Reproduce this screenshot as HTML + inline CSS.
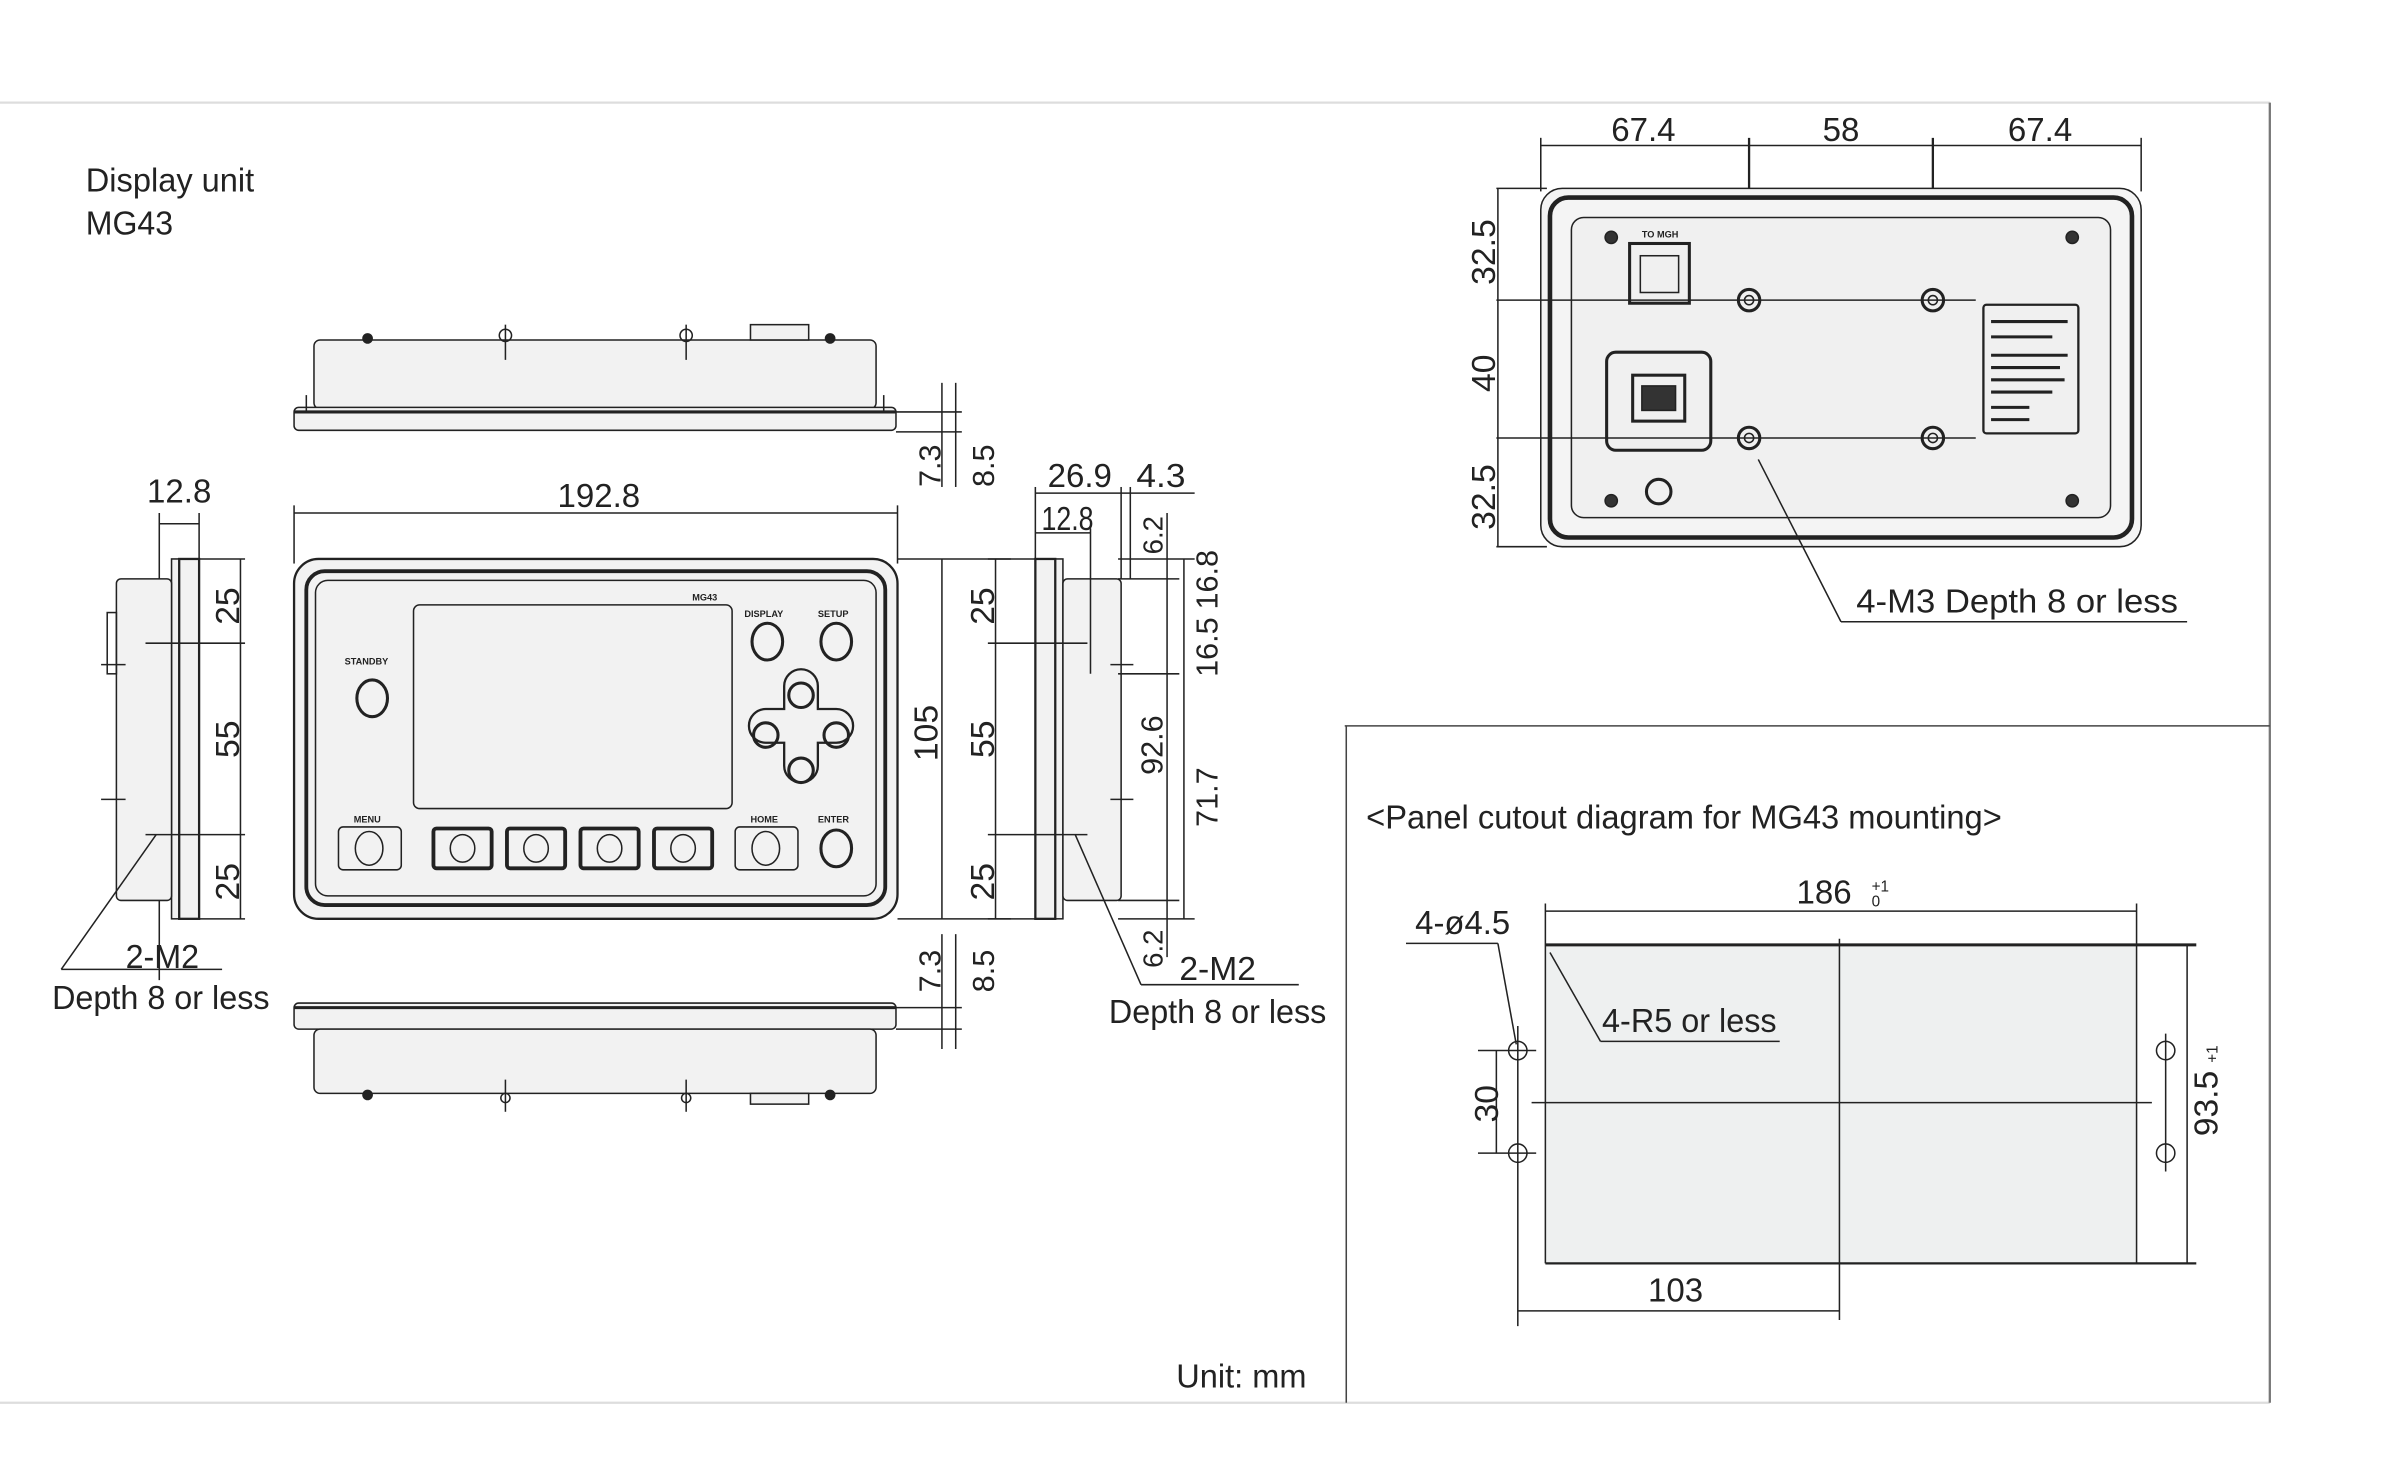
<!DOCTYPE html>
<html><head><meta charset="utf-8"><style>
html,body{margin:0;padding:0;background:#fff;}
svg{display:block;}
text{font-family:"Liberation Sans",sans-serif;fill:#222;}
</style></head><body>
<svg width="2400" height="1464" viewBox="0 0 1567 956" preserveAspectRatio="none" xmlns="http://www.w3.org/2000/svg">
<g fill="none" stroke="#222" stroke-width="1">
<line x1="0" y1="67" x2="1482" y2="67" stroke="#ddd" stroke-width="1.5"/>
<line x1="0" y1="916" x2="1482" y2="916" stroke="#ddd" stroke-width="1.5"/>
<line x1="1482" y1="67" x2="1482" y2="916" stroke="#777" stroke-width="1.5"/>
<line x1="878" y1="474" x2="1482" y2="474" stroke="#444"/>
<line x1="879" y1="474" x2="879" y2="916" stroke="#444"/>

<rect x="205" y="222" width="367" height="45" rx="4" fill="#f2f2f2"/>
<rect x="192" y="266" width="393" height="15" rx="3" fill="#f2f2f2"/>
<line x1="192" y1="269" x2="585" y2="269" stroke-width="2"/>
<rect x="490" y="212" width="38" height="10" fill="#f2f2f2"/>
<line x1="330" y1="212" x2="330" y2="235"/><line x1="448" y1="212" x2="448" y2="235"/>
<circle cx="240" cy="221" r="3" fill="#222"/><circle cx="330" cy="219" r="4"/><circle cx="448" cy="219" r="4"/><circle cx="542" cy="221" r="3" fill="#222"/>
<line x1="200" y1="258" x2="200" y2="270"/><line x1="577" y1="258" x2="577" y2="270"/>
<line x1="585" y1="269" x2="628" y2="269"/><line x1="585" y1="282" x2="628" y2="282"/>
<line x1="615" y1="250" x2="615" y2="318"/><line x1="624" y1="250" x2="624" y2="318"/>
<rect x="192" y="655" width="393" height="17" rx="3" fill="#f2f2f2"/>
<line x1="192" y1="658" x2="585" y2="658" stroke-width="2"/>
<rect x="205" y="672" width="367" height="42" rx="4" fill="#f2f2f2"/>
<rect x="490" y="714" width="38" height="7" fill="#f2f2f2"/>
<line x1="330" y1="705" x2="330" y2="726"/><line x1="448" y1="705" x2="448" y2="726"/>
<circle cx="240" cy="715" r="3" fill="#222"/><circle cx="330" cy="717" r="3"/><circle cx="448" cy="717" r="3"/><circle cx="542" cy="715" r="3" fill="#222"/>
<line x1="585" y1="658" x2="628" y2="658"/><line x1="585" y1="672" x2="628" y2="672"/>
<line x1="615" y1="610" x2="615" y2="685"/><line x1="624" y1="610" x2="624" y2="685"/>

<line x1="192" y1="335" x2="586" y2="335"/>
<line x1="192" y1="330" x2="192" y2="368"/><line x1="586" y1="330" x2="586" y2="368"/>
<rect x="192" y="365" width="394" height="235" rx="16" fill="#f2f2f2" stroke-width="1.5"/>
<rect x="200" y="373" width="378" height="218" rx="12" stroke-width="2.5"/>
<rect x="206" y="379" width="366" height="206" rx="8" fill="#f2f2f2"/>
<rect x="270" y="395" width="208" height="133" rx="4" fill="#f2f2f2"/>
<ellipse cx="501" cy="419" rx="10" ry="12" stroke-width="2"/>
<ellipse cx="546" cy="419" rx="10" ry="12" stroke-width="2"/>
<ellipse cx="243" cy="456" rx="10" ry="12" stroke-width="2"/>
<path d="M512 448 a10 10 0 0 1 22 0 l 0 15 l 12 0 a10 10 0 0 1 0 22 l -12 0 l 0 15 a10 10 0 0 1 -22 0 l 0 -15 l -12 0 a10 10 0 0 1 0 -22 l 12 0 z" stroke-width="1.5"/>
<circle cx="523" cy="454" r="8" stroke-width="2"/><circle cx="500" cy="480" r="8" stroke-width="2"/><circle cx="546" cy="480" r="8" stroke-width="2"/><circle cx="523" cy="503" r="8" stroke-width="2"/>
<rect x="221" y="540" width="41" height="28" rx="3"/><ellipse cx="241" cy="554" rx="9" ry="11"/>
<rect x="480" y="540" width="41" height="28" rx="3"/><ellipse cx="500" cy="554" rx="9" ry="11"/>
<ellipse cx="546" cy="554" rx="10" ry="12" stroke-width="2"/>
<rect x="283" y="541" width="38" height="26" rx="2" stroke-width="2.5"/><ellipse cx="302" cy="554" rx="8" ry="9"/>
<rect x="331" y="541" width="38" height="26" rx="2" stroke-width="2.5"/><ellipse cx="350" cy="554" rx="8" ry="9"/>
<rect x="379" y="541" width="38" height="26" rx="2" stroke-width="2.5"/><ellipse cx="398" cy="554" rx="8" ry="9"/>
<rect x="427" y="541" width="38" height="26" rx="2" stroke-width="2.5"/><ellipse cx="446" cy="554" rx="8" ry="9"/>
<line x1="586" y1="365" x2="660" y2="365"/><line x1="586" y1="600" x2="660" y2="600"/>
<line x1="615" y1="365" x2="615" y2="600"/>

<line x1="104" y1="335" x2="104" y2="640"/><line x1="130" y1="335" x2="130" y2="368"/>
<line x1="104" y1="342" x2="130" y2="342"/>
<rect x="112" y="365" width="18" height="235" fill="#f2f2f2"/>
<rect x="117" y="365" width="13" height="235" stroke-width="1.5"/>
<rect x="76" y="378" width="36" height="210" rx="3" fill="#f2f2f2"/>
<rect x="70" y="400" width="6" height="40"/>
<line x1="66" y1="434" x2="82" y2="434"/><line x1="66" y1="522" x2="82" y2="522"/>
<line x1="130" y1="365" x2="160" y2="365"/><line x1="130" y1="600" x2="160" y2="600"/>
<line x1="95" y1="420" x2="160" y2="420"/><line x1="95" y1="545" x2="160" y2="545"/>
<line x1="157" y1="365" x2="157" y2="600"/>
<line x1="102" y1="545" x2="40" y2="633"/><line x1="40" y1="633" x2="145" y2="633"/>

<rect x="676" y="365" width="18" height="235" fill="#f2f2f2"/>
<rect x="676" y="365" width="13" height="235" stroke-width="1.5"/>
<rect x="694" y="378" width="38" height="210" rx="3" fill="#f2f2f2"/>
<line x1="725" y1="434" x2="740" y2="434"/><line x1="725" y1="522" x2="740" y2="522"/>
<line x1="645" y1="365" x2="676" y2="365"/><line x1="645" y1="600" x2="676" y2="600"/>
<line x1="645" y1="420" x2="710" y2="420"/><line x1="645" y1="545" x2="710" y2="545"/>
<line x1="650" y1="365" x2="650" y2="600"/>
<line x1="676" y1="318" x2="676" y2="368"/><line x1="712" y1="345" x2="712" y2="440"/><line x1="732" y1="318" x2="732" y2="378"/><line x1="738" y1="318" x2="738" y2="378"/>
<line x1="676" y1="322" x2="780" y2="322"/><line x1="676" y1="348" x2="712" y2="348"/>
<line x1="730" y1="365" x2="780" y2="365"/><line x1="730" y1="378" x2="770" y2="378"/><line x1="730" y1="440" x2="770" y2="440"/>
<line x1="730" y1="588" x2="770" y2="588"/><line x1="730" y1="600" x2="780" y2="600"/>
<line x1="762" y1="335" x2="762" y2="625"/><line x1="773" y1="365" x2="773" y2="600"/>
<line x1="702" y1="545" x2="745" y2="643"/><line x1="745" y1="643" x2="848" y2="643"/>

<line x1="1006" y1="95" x2="1398" y2="95"/>
<line x1="1006" y1="90" x2="1006" y2="125"/><line x1="1398" y1="90" x2="1398" y2="125"/>
<line x1="1142" y1="90" x2="1142" y2="300" stroke-width="1.5"/><line x1="1262" y1="90" x2="1262" y2="300" stroke-width="1.5"/>
<rect x="1006" y="123" width="392" height="234" rx="14" fill="#f4f4f4"/>
<rect x="1012" y="129" width="380" height="222" rx="12" stroke-width="3"/>
<rect x="1026" y="142" width="352" height="196" rx="8" fill="#f0f0f0"/>
<line x1="977" y1="123" x2="1010" y2="123"/><line x1="977" y1="357" x2="1010" y2="357"/>
<line x1="978" y1="123" x2="978" y2="357"/>
<line x1="977" y1="196" x2="1290" y2="196"/><line x1="977" y1="286" x2="1290" y2="286"/>
<circle cx="1142" cy="196" r="7" stroke-width="2"/><circle cx="1262" cy="196" r="7" stroke-width="2"/>
<circle cx="1142" cy="286" r="7" stroke-width="2"/><circle cx="1262" cy="286" r="7" stroke-width="2"/>
<circle cx="1142" cy="196" r="3"/><circle cx="1262" cy="196" r="3"/><circle cx="1142" cy="286" r="3"/><circle cx="1262" cy="286" r="3"/>
<rect x="1064" y="159" width="39" height="39" stroke-width="2"/>
<rect x="1071" y="167" width="25" height="24"/>
<rect x="1049" y="230" width="68" height="64" rx="6" stroke-width="2"/>
<rect x="1066" y="245" width="34" height="30" stroke-width="2"/>
<rect x="1072" y="252" width="22" height="16" fill="#333"/>
<circle cx="1083" cy="321" r="8" stroke-width="2"/>
<rect x="1295" y="199" width="62" height="84" rx="2" stroke-width="1.5"/>
<g stroke-width="2"><line x1="1300" y1="210" x2="1350" y2="210"/><line x1="1300" y1="220" x2="1340" y2="220"/><line x1="1300" y1="232" x2="1350" y2="232"/><line x1="1300" y1="240" x2="1345" y2="240"/><line x1="1300" y1="248" x2="1348" y2="248"/><line x1="1300" y1="256" x2="1340" y2="256"/><line x1="1300" y1="266" x2="1325" y2="266"/><line x1="1300" y1="274" x2="1325" y2="274"/></g>
<circle cx="1052" cy="155" r="4" fill="#333"/><circle cx="1353" cy="155" r="4" fill="#333"/><circle cx="1052" cy="327" r="4" fill="#333"/><circle cx="1353" cy="327" r="4" fill="#333"/>
<line x1="1148" y1="300" x2="1202" y2="406"/><line x1="1202" y1="406" x2="1428" y2="406"/>

<rect x="1009" y="617" width="386" height="208" fill="#eef0f0" stroke="none"/>
<line x1="1009" y1="617" x2="1434" y2="617" stroke-width="2"/>
<line x1="1009" y1="825" x2="1434" y2="825" stroke-width="1.5"/>
<line x1="1009" y1="590" x2="1009" y2="825"/><line x1="1395" y1="590" x2="1395" y2="825"/>
<line x1="1009" y1="595" x2="1395" y2="595"/>
<line x1="1201" y1="613" x2="1201" y2="862"/>
<line x1="1000" y1="720" x2="1405" y2="720"/>
<line x1="1428" y1="617" x2="1428" y2="825"/>
<circle cx="991" cy="686" r="6"/><circle cx="991" cy="753" r="6"/>
<circle cx="1414" cy="686" r="6"/><circle cx="1414" cy="753" r="6"/>
<line x1="991" y1="670" x2="991" y2="866"/><line x1="965" y1="686" x2="1003" y2="686"/><line x1="965" y1="753" x2="1003" y2="753"/>
<line x1="1414" y1="675" x2="1414" y2="765"/>
<line x1="977" y1="686" x2="977" y2="753"/>
<line x1="991" y1="856" x2="1201" y2="856"/>
<line x1="918" y1="616" x2="978" y2="616"/><line x1="978" y1="616" x2="990" y2="682"/>
<line x1="1012" y1="622" x2="1045" y2="680"/><line x1="1045" y1="680" x2="1162" y2="680"/>
</g>

<g font-size="22">
<text x="56" y="125" textLength="110" lengthAdjust="spacingAndGlyphs">Display unit</text>
<text x="56" y="153" textLength="57" lengthAdjust="spacingAndGlyphs">MG43</text>
<text x="96" y="328" textLength="42" lengthAdjust="spacingAndGlyphs">12.8</text>
<text x="364" y="331" textLength="54" lengthAdjust="spacingAndGlyphs">192.8</text>
<text x="684" y="318" textLength="42" lengthAdjust="spacingAndGlyphs">26.9</text>
<text x="742" y="318" textLength="32" lengthAdjust="spacingAndGlyphs">4.3</text>
<text x="680" y="346" textLength="34" lengthAdjust="spacingAndGlyphs">12.8</text>
<text x="82" y="632" textLength="48" lengthAdjust="spacingAndGlyphs">2-M2</text>
<text x="34" y="659" textLength="142" lengthAdjust="spacingAndGlyphs">Depth 8 or less</text>
<text x="770" y="640" textLength="50" lengthAdjust="spacingAndGlyphs">2-M2</text>
<text x="724" y="668" textLength="142" lengthAdjust="spacingAndGlyphs">Depth 8 or less</text>
<text x="768" y="906" textLength="85" lengthAdjust="spacingAndGlyphs">Unit: mm</text>
<text x="1052" y="92" textLength="42" lengthAdjust="spacingAndGlyphs">67.4</text>
<text x="1190" y="92" textLength="24" lengthAdjust="spacingAndGlyphs">58</text>
<text x="1311" y="92" textLength="42" lengthAdjust="spacingAndGlyphs">67.4</text>
<text x="1212" y="400" textLength="210" lengthAdjust="spacingAndGlyphs">4-M3   Depth 8 or less</text>
<text x="892" y="541" textLength="415" lengthAdjust="spacingAndGlyphs">&lt;Panel cutout diagram for MG43 mounting&gt;</text>
<text x="1173" y="590" textLength="36" lengthAdjust="spacingAndGlyphs">186</text>
<text x="1222" y="582" font-size="10">+1</text><text x="1222" y="592" font-size="10">0</text>
<text x="924" y="610" textLength="62" lengthAdjust="spacingAndGlyphs">4-ø4.5</text>
<text x="1046" y="674" textLength="114" lengthAdjust="spacingAndGlyphs">4-R5 or less</text>
<text x="1076" y="850" textLength="36" lengthAdjust="spacingAndGlyphs">103</text>
</g>
<g font-size="22">
<text transform="translate(156,408) rotate(-90)">25</text>
<text transform="translate(156,495) rotate(-90)">55</text>
<text transform="translate(156,588) rotate(-90)">25</text>
<text transform="translate(612,497) rotate(-90)">105</text>
<text transform="translate(649,408) rotate(-90)">25</text>
<text transform="translate(649,495) rotate(-90)">55</text>
<text transform="translate(649,588) rotate(-90)">25</text>
<text transform="translate(614,318) rotate(-90)" font-size="20">7.3</text>
<text transform="translate(649,318) rotate(-90)" font-size="20">8.5</text>
<text transform="translate(614,648) rotate(-90)" font-size="20">7.3</text>
<text transform="translate(649,648) rotate(-90)" font-size="20">8.5</text>
<text transform="translate(759,362) rotate(-90)" font-size="18">6.2</text>
<text transform="translate(759,506) rotate(-90)" font-size="20">92.6</text>
<text transform="translate(759,632) rotate(-90)" font-size="18">6.2</text>
<text transform="translate(795,398) rotate(-90)" font-size="20">16.8</text>
<text transform="translate(795,442) rotate(-90)" font-size="20">16.5</text>
<text transform="translate(795,540) rotate(-90)" font-size="20">71.7</text>
<text transform="translate(976,186) rotate(-90)">32.5</text>
<text transform="translate(976,256) rotate(-90)">40</text>
<text transform="translate(976,346) rotate(-90)">32.5</text>
<text transform="translate(978,733) rotate(-90)">30</text>
<text transform="translate(1448,742) rotate(-90)">93.5</text>
<text transform="translate(1448,694) rotate(-90)" font-size="10">+1</text>
</g>
<g font-size="6" font-weight="bold">
<text x="225" y="434">STANDBY</text><text x="486" y="403">DISPLAY</text><text x="534" y="403">SETUP</text>
<text x="231" y="537">MENU</text><text x="490" y="537">HOME</text><text x="534" y="537">ENTER</text>
<text x="452" y="392">MG43</text><text x="1072" y="155">TO MGH</text>
</g>
</svg>
</body></html>
